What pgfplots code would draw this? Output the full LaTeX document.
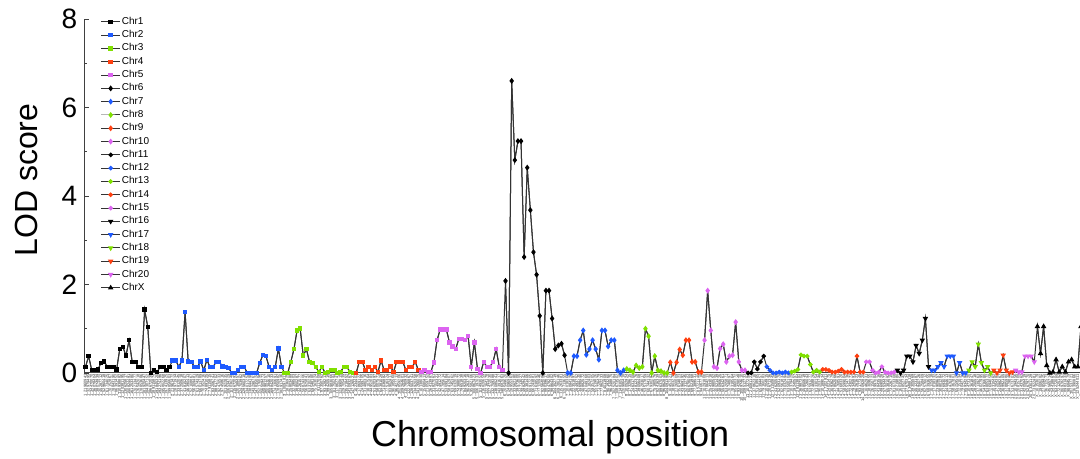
\documentclass[border=0pt]{standalone}
\usepackage{fontspec}
\setmainfont{Liberation Sans}
\usepackage{pgfplots}
\usepackage{pgfplotstable}
\pgfplotsset{compat=1.18}

\definecolor{cblue}{RGB}{30,90,255}
\definecolor{cgreen}{RGB}{128,224,0}
\definecolor{cred}{RGB}{255,64,16}
\definecolor{cmag}{RGB}{220,100,240}

% LOD score per marker, in chromosome order
\pgfplotstableread{
i lod lab
0 0.14 1\_21960941
1 0.38 1\_32979495
2 0.06 1\_34470070
3 0.06 1\_36078404
4 0.08 1\_38074939
5 0.23 1\_45287712
6 0.26 1\_52960418
7 0.14 1\_61734025
8 0.14 1\_70152867
9 0.14 1\_78843190
10 0.08 1\_86391452
11 0.54 1\_110938882
12 0.59 1\_120381195
13 0.39 1\_130625817
14 0.74 1\_150824491
15 0.25 1\_161253380
16 0.25 1\_170213477
17 0.14 1\_176542018
18 0.14 1\_178853686
19 1.43 1\_181920447
20 1.04 1\_184307152
21 0 1\_186672039
22 0.06 1\_189115874
23 0.02 1\_191845320
24 0.14 1\_193274196
25 0.14 1\_195802268
26 0.06 1\_197413925
27 0.14 1\_199856603
28 0.28 2\_21961472
29 0.28 2\_28971934
30 0.14 2\_33812045
31 0.28 2\_37250618
32 1.38 2\_41815207
33 0.26 2\_46390413
34 0.25 2\_52108867
35 0.14 2\_56309481
36 0.14 2\_61574329
37 0.26 2\_66013789
38 0.06 2\_70352416
39 0.29 2\_74891025
40 0.14 2\_79115815
41 0.14 2\_83206741
42 0.25 2\_88617702
43 0.25 2\_92470533
44 0.15 2\_97458616
45 0.14 2\_101922835
46 0.11 2\_106534729
47 0 2\_111036240
48 0 2\_115672093
49 0.06 2\_120188457
50 0.14 2\_124703962
51 0.14 2\_129560318
52 0 2\_134017252
53 0 2\_138644190
54 0 2\_143298761
55 0 2\_147835024
56 0.23 2\_152176096
57 0.40 2\_156509473
58 0.38 2\_160981257
59 0.14 2\_165384610
60 0.06 2\_169842033
61 0.14 2\_174130691
62 0.55 2\_178650982
63 0.14 2\_182917436
64 0 3\_10097811
65 0 3\_18236925
66 0.25 3\_25803489
67 0.54 3\_32198503
68 0.96 3\_38850287
69 1.00 3\_44261577
70 0.39 3\_50874306
71 0.54 3\_56925841
72 0.25 3\_63310292
73 0.23 3\_69548180
74 0.14 3\_75163024
75 0.02 3\_81117008
76 0.14 3\_87350762
77 0 3\_93128213
78 0.02 3\_99420519
79 0.06 3\_105983066
80 0.06 3\_111750294
81 0 3\_117862741
82 0.02 3\_123990815
83 0.14 3\_129705439
84 0.14 3\_135218452
85 0.02 3\_141093267
86 0 3\_147126527
87 0 4\_10234403
88 0.25 4\_17869122
89 0.25 4\_24599705
90 0.06 4\_31480316
91 0.14 4\_38107564
92 0.06 4\_44952083
93 0.14 4\_51620397
94 0.02 4\_58007571
95 0.28 4\_64381029
96 0.06 4\_71036882
97 0.06 4\_77516324
98 0.15 4\_83902417
99 0.02 4\_90185560
100 0.25 4\_96427713
101 0.25 4\_102859206
102 0.25 4\_109264601
103 0.06 4\_115780932
104 0.14 4\_122146867
105 0.14 4\_128503741
106 0.25 4\_134920358
107 0.06 4\_141266075
108 0.02 5\_10138030
109 0.06 5\_15680413
110 0.02 5\_21059752
111 0.02 5\_26413987
112 0.24 5\_31827061
113 0.74 5\_37150321
114 0.98 5\_42491272
115 0.98 5\_47785614
116 0.98 5\_53099184
117 0.69 5\_58412907
118 0.60 5\_63745362
119 0.54 5\_69032019
120 0.77 5\_74388072
121 0.77 5\_79651838
122 0.74 5\_84920316
123 0.83 5\_90263718
124 0.14 5\_95582106
125 0.69 5\_100867423
126 0.09 5\_106197033
127 0 5\_111493052
128 0.25 5\_116820659
129 0.14 5\_122164178
130 0.14 5\_127472030
131 0.25 5\_132759388
132 0.54 5\_138085241
133 0.14 5\_143391617
134 0.06 5\_148687063
135 2.08 6\_20549620
136 0 6\_24096929
137 6.60 6\_28955363
138 4.81 6\_33562180
139 5.24 6\_39573600
140 5.24 6\_44713027
141 2.62 6\_49829442
142 4.64 6\_55381406
143 3.68 6\_60917205
144 2.73 6\_66243881
145 2.22 6\_71638592
146 1.29 6\_77120946
147 0 6\_82564083
148 1.86 6\_88039617
149 1.86 6\_93478250
150 1.23 6\_98864302
151 0.54 6\_104352719
152 0.62 6\_109780146
153 0.66 6\_115263381
154 0.40 6\_120713655
155 0 7\_10018366
156 0 7\_16084129
157 0.38 7\_22351897
158 0.38 7\_28493752
159 0.74 7\_34698440
160 0.96 7\_40882572
161 0.41 7\_47049168
162 0.54 7\_53182403
163 0.74 7\_59357205
164 0.54 7\_65519826
165 0.30 7\_71726479
166 0.96 7\_77862233
167 0.96 7\_84011908
168 0.60 7\_90193260
169 0.74 7\_96348875
170 0.74 7\_102520184
171 0.06 7\_108673502
172 0 7\_114830519
173 0.06 7\_120986418
174 0.09 8\_10052924
175 0.06 8\_17328615
176 0.02 8\_24631700
177 0.17 8\_31812376
178 0.11 8\_39056408
179 0.14 8\_46283017
180 1.00 8\_53517859
181 0.83 8\_60744132
182 0 8\_67930287
183 0.38 8\_75180576
184 0.06 8\_82416339
185 0.04 8\_89637003
186 0 8\_96862845
187 0 8\_104091390
188 0.24 9\_10457321
189 0 9\_18903276
190 0.24 9\_27260009
191 0.53 9\_35614823
192 0.40 9\_43969192
193 0.74 9\_52312745
194 0.74 9\_60678004
195 0.25 9\_69021968
196 0.25 9\_77389531
197 0.02 9\_85721140
198 0.02 9\_94067718
199 0.74 10\_10291800
200 1.86 10\_17864213
201 0.96 10\_25433018
202 0.14 10\_32980552
203 0.11 10\_40521439
204 0.55 10\_48090625
205 0.65 10\_55634261
206 0.25 10\_63205871
207 0.38 10\_70748097
208 0.40 10\_78318564
209 1.15 10\_85860372
210 0.25 10\_93428048
211 0.06 10\_100974610
212 0.06 10\_108512733
213 0 11\_10327294
214 0 11\_24081121
215 0.25 11\_37862310
216 0.09 11\_51618905
217 0.25 11\_65394457
218 0.38 11\_79160283
219 0.14 12\_10204915
220 0.06 12\_20671336
221 0 12\_31150842
222 0 12\_41620569
223 0.02 12\_52093170
224 0 12\_62561837
225 0.02 12\_73032494
226 0 12\_83500102
227 0.02 13\_10379429
228 0.04 13\_19240557
229 0.08 13\_28113864
230 0.41 13\_36987302
231 0.38 13\_45850619
232 0.38 13\_54726043
233 0.19 13\_63591277
234 0.02 13\_72468826
235 0.06 13\_81330154
236 0.02 13\_90203748
237 0.08 14\_10189034
238 0.08 14\_17102811
239 0.06 14\_24021475
240 0.02 14\_30936279
241 0.02 14\_37852066
242 0.04 14\_44768591
243 0.08 14\_51683320
244 0.02 14\_58599004
245 0.02 14\_65514736
246 0.02 14\_72430271
247 0.02 14\_79345891
248 0.38 14\_86261623
249 0.02 14\_93177345
250 0.02 14\_100092820
251 0.25 15\_10462931
252 0.25 15\_18309655
253 0.06 15\_26150723
254 0 15\_33997084
255 0.02 15\_41843516
256 0.14 15\_49690028
257 0.02 15\_57534471
258 0 15\_65381092
259 0 15\_73226715
260 0.02 15\_81073308
261 0.06 16\_10219880
262 0 16\_16035051
263 0.06 16\_21852742
264 0.38 16\_27670334
265 0.38 16\_33488118
266 0.25 16\_39305569
267 0.62 16\_45123187
268 0.44 16\_50940726
269 0.74 16\_56758409
270 1.23 16\_62576012
271 0.14 16\_68393655
272 0.06 17\_10125918
273 0.06 17\_17018332
274 0.14 17\_23909657
275 0.23 17\_30801284
276 0.14 17\_37693072
277 0.38 17\_44584613
278 0.38 17\_51476340
279 0.38 17\_58367801
280 0 17\_65259528
281 0.23 17\_72151034
282 0 17\_79042716
283 0 17\_85934297
284 0.06 18\_10473120
285 0.25 18\_19361847
286 0.14 18\_28250518
287 0.65 18\_37139263
288 0.23 18\_46027995
289 0.06 18\_54916680
290 0.14 18\_63805372
291 0 18\_72694058
292 0.06 19\_10310462
293 0 19\_17204381
294 0.06 19\_24098267
295 0.40 19\_30992105
296 0.06 19\_37885980
297 0 19\_44779846
298 0.02 19\_51673701
299 0.06 20\_10194356
300 0.02 20\_20815709
301 0.02 20\_31437062
302 0.38 20\_42058419
303 0.38 20\_52679770
304 0.38 20\_63301129
305 0.25 20\_73922481
306 1.05 X\_10153079
307 0.44 X\_19006282
308 1.05 X\_27859425
309 0.17 X\_36712573
310 0 X\_45565714
311 0.02 X\_54418867
312 0.30 X\_63272004
313 0.02 X\_72125152
314 0.14 X\_80978297
315 0.02 X\_89831433
316 0.25 X\_98684579
317 0.30 X\_107537721
318 0.14 X\_116390866
319 0.14 X\_125244011
320 1.05 X\_134097153
}\lod

% mark, size, colour, index range, mark rotation
\pgfplotsset{
  chr/.style n args={5}{line width=0.5pt, color=black!80, mark=#1, mark size=#2,
    mark options={draw=#3, fill=#3, solid, rotate=#5}, restrict x to domain=#4},
}

\begin{document}
\begin{tikzpicture}
\begin{axis}[
    scale only axis,
    width=497.9pt, height=177pt,
    axis lines=left,
    axis line style={-, black!75, line width=0.5pt},
    clip=false,
    xmin=-0.4, xmax=319.7,
    ymin=0, ymax=8,
    ytick={0,2,4,6,8},
    minor ytick={1,3,5,7},
    tick align=inside,
    major tick length=2.5pt,
    minor tick length=1.5pt,
    tick style={black!75, line width=0.4pt},
    xtick={0,...,320},
    xtick style={draw=none},
    xticklabels from table={\lod}{lab},
    xticklabel style={rotate=90, anchor=east, font=\fontsize{2}{2.2}\selectfont,
      inner sep=0.6pt, text=black!80},
    yticklabel style={font=\fontsize{14}{16}\selectfont},
    /pgf/number format/assume math mode=true,
    xlabel={Chromosomal position},
    ylabel={LOD score},
    xlabel style={font=\fontsize{18}{20}\selectfont, at={(axis description cs:0.468,0)},
      anchor=center, yshift=-32pt},
    ylabel style={font=\fontsize{16}{18}\selectfont, at={(axis description cs:-0.058,0.545)},
      anchor=center},
    legend cell align=left,
    legend style={at={(axis description cs:0,1)}, anchor=north west,
      xshift=8pt, yshift=1.5pt, draw=none, fill=none, inner sep=0pt,
      row sep=1.15pt,
      nodes={inner sep=0.6pt, text height=3.4pt, text depth=0.9pt,
        font=\fontsize{5}{6}\selectfont}},
    legend image code/.code={
      \draw[mark repeat=2, mark phase=2, #1] plot coordinates {(0pt,0pt) (4.75pt,0pt) (9.5pt,0pt)};
    },
]
\addplot[forget plot, line width=0.5pt, black!80] table[x=i, y=lod] {\lod};

\addplot[chr={square*}{0.85pt}{black}{0:27}{0}] table[x=i, y=lod] {\lod};
\addplot[chr={square*}{0.85pt}{cblue}{28:63}{0}] table[x=i, y=lod] {\lod};
\addplot[chr={square*}{0.85pt}{cgreen}{64:86}{0}] table[x=i, y=lod] {\lod};
\addplot[chr={square*}{0.85pt}{cred}{87:107}{0}] table[x=i, y=lod] {\lod};
\addplot[chr={square*}{0.85pt}{cmag}{108:134}{0}] table[x=i, y=lod] {\lod};
\addplot[chr={diamond*}{1.1pt}{black}{135:154}{0}] table[x=i, y=lod] {\lod};
\addplot[chr={diamond*}{1.1pt}{cblue}{155:173}{0}] table[x=i, y=lod] {\lod};
\addplot[chr={diamond*}{1.1pt}{cgreen}{174:187}{0}] table[x=i, y=lod] {\lod};
\addplot[chr={diamond*}{1.1pt}{cred}{188:198}{0}] table[x=i, y=lod] {\lod};
\addplot[chr={diamond*}{1.1pt}{cmag}{199:212}{0}] table[x=i, y=lod] {\lod};
\addplot[chr={*}{0.9pt}{black}{213:218}{0}] table[x=i, y=lod] {\lod};
\addplot[chr={*}{0.9pt}{cblue}{219:226}{0}] table[x=i, y=lod] {\lod};
\addplot[chr={*}{0.9pt}{cgreen}{227:236}{0}] table[x=i, y=lod] {\lod};
\addplot[chr={*}{0.9pt}{cred}{237:250}{0}] table[x=i, y=lod] {\lod};
\addplot[chr={*}{0.9pt}{cmag}{251:260}{0}] table[x=i, y=lod] {\lod};
\addplot[chr={triangle*}{1.1pt}{black}{261:271}{180}] table[x=i, y=lod] {\lod};
\addplot[chr={triangle*}{1.1pt}{cblue}{272:283}{180}] table[x=i, y=lod] {\lod};
\addplot[chr={triangle*}{1.1pt}{cgreen}{284:291}{180}] table[x=i, y=lod] {\lod};
\addplot[chr={triangle*}{1.1pt}{cred}{292:298}{180}] table[x=i, y=lod] {\lod};
\addplot[chr={triangle*}{1.1pt}{cmag}{299:305}{180}] table[x=i, y=lod] {\lod};
\addplot[chr={triangle*}{1.1pt}{black}{306:320}{0}] table[x=i, y=lod] {\lod};

\legend{Chr1,Chr2,Chr3,Chr4,Chr5,Chr6,Chr7,Chr8,Chr9,Chr10,Chr11,Chr12,Chr13,Chr14,Chr15,Chr16,Chr17,Chr18,Chr19,Chr20,ChrX}
\end{axis}
\pgfresetboundingbox
\path ([shift={(-42.15pt,-43pt)}]current axis.south west) rectangle ([shift={(0pt,9.5pt)}]current axis.north east);
\end{tikzpicture}
\end{document}
